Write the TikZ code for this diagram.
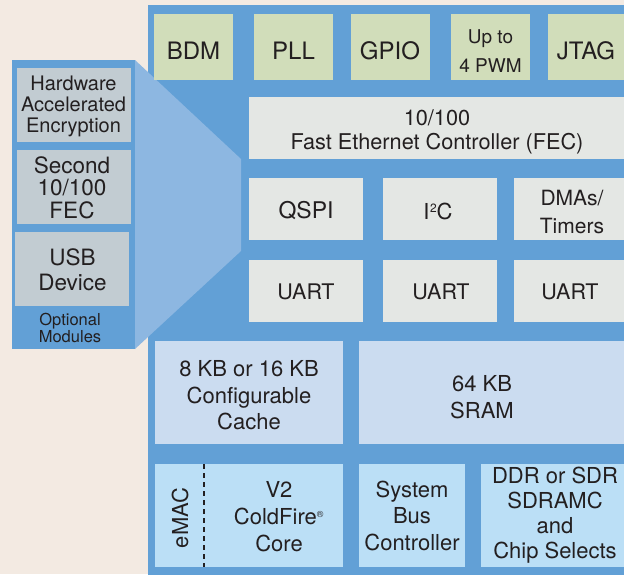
\documentclass[tikz,border=0pt]{standalone}
\usepackage{fontspec}
\setmainfont{TeX Gyre Heros}
\definecolor{bgc}{HTML}{F3EAE2}
\definecolor{mainblue}{HTML}{62A0D6}
\definecolor{trap}{HTML}{8DB7E1}
\definecolor{greenbox}{HTML}{D1DDBA}
\definecolor{graybox}{HTML}{E4E7E4}
\definecolor{optbox}{HTML}{C2CCD2}
\definecolor{membox}{HTML}{CBDCF0}
\definecolor{corebox}{HTML}{BBDFF6}
\definecolor{txtc}{HTML}{231F20}
\tikzset{
  blk/.style={inner sep=0pt, outer sep=0pt, anchor=north west, draw=none},
  gbx/.style={blk, fill=greenbox},
  ybx/.style={blk, fill=graybox},
  obx/.style={blk, fill=optbox},
  mbx/.style={blk, fill=membox},
  cbx/.style={blk, fill=corebox},
  txt/.style={align=center, text=txtc, inner sep=0pt, outer sep=0pt},
  fa/.style={font=\fontsize{24}{28}\selectfont},
  fb/.style={font=\fontsize{22}{26.5}\selectfont},
  fopt/.style={font=\fontsize{16.5}{17}\selectfont}
}
\begin{document}
\begin{tikzpicture}[x=1pt,y=-1pt]
\useasboundingbox (0,0) rectangle (624,574);
\begin{scope}
\clip (0,0) rectangle (624,574);
\fill[bgc] (0,0) rectangle (624,574);
% main panel
\fill[mainblue] (148,5) rectangle (640,590);
% optional panel and projection
\fill[mainblue] (12,60) rectangle (135,349);
\fill[trap] (135,60) -- (241,159) -- (241,251) -- (135,349) -- cycle;

% top row
\node[gbx, minimum width=79pt, minimum height=66pt] (bdm) at (154,14) {};
\node[gbx, minimum width=79pt, minimum height=66pt] (pll) at (254,14) {};
\node[gbx, minimum width=79pt, minimum height=66pt] (gpio) at (351,14) {};
\node[gbx, minimum width=79pt, minimum height=66pt] (pwm) at (451,14) {};
\node[gbx, minimum width=80pt, minimum height=66pt] (jtag) at (548,14) {};
\node[txt, fa] (bdmt) at (193.5,50.5) {BDM};
\node[txt, fa] (pllt) at (293.5,50.5) {PLL};
\node[txt, fa] (gpiot) at (390,50.5) {GPIO};
\node[txt, font=\fontsize{19}{29}\selectfont] (pwmt) at (490.5,50.7) {Up to\\4 PWM};
\node[txt, fa] (jtagt) at (586,50.5) {JTAG};

% FEC
\node[ybx, minimum width=380pt, minimum height=62pt] (fec) at (249,97) {};
\node[txt, font=\fontsize{21.7}{24}\selectfont] (fect) at (437,132) {10/100\\Fast Ethernet Controller (FEC)};

% row 3
\node[ybx, minimum width=114pt, minimum height=62pt] (qspi) at (249,178) {};
\node[ybx, minimum width=114pt, minimum height=62pt] (iic) at (383,178) {};
\node[ybx, minimum width=116pt, minimum height=62pt] (dma) at (514,178) {};
\node[txt, font=\fontsize{23}{26}\selectfont] (qspit) at (306,211) {QSPI};
\node[txt, font=\fontsize{22}{26}\selectfont] (iict) at (438,211) {I\kern0.5pt\raisebox{7pt}{\fontsize{12}{12}\selectfont 2}C};
\node[txt, font=\fontsize{21}{28}\selectfont] (dmat) at (572,211.5) {DMAs/\\Timers};

% row 4
\node[ybx, minimum width=114pt, minimum height=62pt] (uarta) at (249,260) {};
\node[ybx, minimum width=114pt, minimum height=62pt] (uartb) at (383,260) {};
\node[ybx, minimum width=116pt, minimum height=62pt] (uartc) at (514,260) {};
\node[txt, font=\fontsize{21.5}{26}\selectfont] (uartat) at (306,292) {UART};
\node[txt, font=\fontsize{21.5}{26}\selectfont] (uartbt) at (441,292) {UART};
\node[txt, font=\fontsize{21.5}{26}\selectfont] (uartct) at (570,292) {UART};

% memory row
\node[mbx, minimum width=188pt, minimum height=103pt] (cache) at (155,341) {};
\node[mbx, minimum width=270pt, minimum height=103pt] (sram) at (359,341) {};
\node[txt, fb] (cachet) at (249,395.5) {8 KB or 16 KB\\Configurable\\Cache};
\node[txt, font=\fontsize{22}{27}\selectfont] (sramt) at (482,397.5) {64 KB\\SRAM};

% bottom row
\node[cbx, minimum width=188pt, minimum height=103pt] (core) at (155,464) {};
\node[cbx, minimum width=106pt, minimum height=103pt] (sbus) at (359,464) {};
\node[cbx, minimum width=148pt, minimum height=103pt] (ddr) at (481,464) {};
\coordinate (dtop) at (204,464);
\coordinate (dbot) at (204,567);
\draw[txtc, line width=1.4pt, dash pattern=on 5pt off 4pt] (dtop) -- (dbot);
\node[txt, font=\fontsize{22}{26}\selectfont, rotate=90] (emact) at (180,518) {eMAC};
\node[txt, font=\fontsize{22}{27}\selectfont] (coret) at (279,517) {V2\\ColdFire\textsuperscript{\fontsize{9}{9}\selectfont\textregistered}\\Core};
\node[txt, font=\fontsize{22}{26.5}\selectfont] (sbust) at (412,515.5) {System\\Bus\\Controller};
\node[txt, font=\fontsize{22}{25}\selectfont] (ddrt) at (555,515) {DDR or SDR\\SDRAMC\\and\\Chip Selects};

% optional modules
\node[obx, minimum width=114pt, minimum height=74pt] (hw) at (17,68) {};
\node[obx, minimum width=114pt, minimum height=74pt] (fec2) at (17,150) {};
\node[obx, minimum width=114pt, minimum height=74pt] (usb) at (15,232) {};
\node[txt, font=\fontsize{20}{21}\selectfont] (hwt) at (73.5,106.5) {Hardware\\Accelerated\\Encryption};
\node[txt, font=\fontsize{22.5}{22.5}\selectfont] (fec2t) at (72,187.5) {Second\\10/100\\FEC};
\node[txt, font=\fontsize{22.5}{25}\selectfont] (usbt) at (72.5,270) {USB\\Device};
\node[txt, fopt] (optt) at (70,327.5) {Optional\\Modules};
\end{scope}
\end{tikzpicture}
\end{document}
